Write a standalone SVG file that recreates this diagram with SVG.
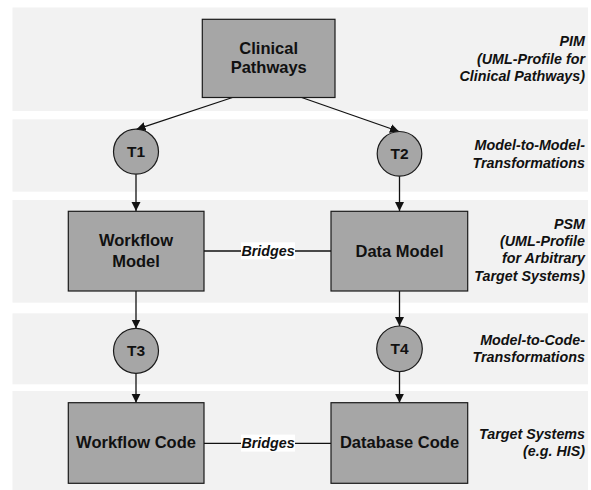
<svg xmlns="http://www.w3.org/2000/svg" width="591" height="490" viewBox="0 0 591 490">
<style>
.band{fill:#f2f2f2}
.box{fill:#a6a6a6;stroke:#1a1a1a;stroke-width:1.2}
.circ{fill:#a6a6a6;stroke:#1a1a1a;stroke-width:1.2}
.nt{font-family:"Liberation Sans",Arial,sans-serif;font-weight:bold;font-size:16.5px;fill:#111;text-anchor:middle}
.tt{font-family:"Liberation Sans",Arial,sans-serif;font-weight:bold;font-size:15.5px;fill:#111;text-anchor:middle}
.lbl{font-family:"Liberation Sans",Arial,sans-serif;font-weight:bold;font-style:italic;font-size:14.3px;fill:#111;text-anchor:end}
.br{font-family:"Liberation Sans",Arial,sans-serif;font-weight:bold;font-style:italic;font-size:14.3px;fill:#111;text-anchor:middle}
.ln{stroke:#111;stroke-width:1.3;fill:none}
</style>
<defs>
<marker id="ah" markerWidth="10" markerHeight="10" refX="9" refY="4.5" orient="auto" markerUnits="userSpaceOnUse">
<path d="M0,0 L9,4.5 L0,9 Z" fill="#111"/>
</marker>
</defs>
<g id="bands">
<rect class="band" x="12.5" y="7.5" width="575.5" height="103.5"/>
<rect class="band" x="12.5" y="119.3" width="575.5" height="72.4"/>
<rect class="band" x="12.5" y="200" width="575.5" height="102.7"/>
<rect class="band" x="12.5" y="313.3" width="575.5" height="71"/>
<rect class="band" x="12.5" y="391" width="575.5" height="99"/>
</g>
<g id="layer-labels">
<text class="lbl" x="585" y="45.7">PIM</text>
<text class="lbl" x="585" y="63.5">(UML-Profile for</text>
<text class="lbl" x="585" y="81.3">Clinical Pathways)</text>
<text class="lbl" x="585" y="150">Model-to-Model-</text>
<text class="lbl" x="585" y="168.3">Transformations</text>
<text class="lbl" x="585" y="228.7">PSM</text>
<text class="lbl" x="585" y="246">(UML-Profile</text>
<text class="lbl" x="585" y="263.3">for Arbitrary</text>
<text class="lbl" x="585" y="280.7">Target Systems)</text>
<text class="lbl" x="585" y="345">Model-to-Code-</text>
<text class="lbl" x="585" y="361.7">Transformations</text>
<text class="lbl" x="585" y="439.3">Target Systems</text>
<text class="lbl" x="585" y="456">(e.g. HIS)</text>
</g>
<g id="connectors">
<line class="ln" x1="232.5" y1="97.5" x2="136.5" y2="129.3" marker-end="url(#ah)"/>
<line class="ln" x1="301.7" y1="97.5" x2="399" y2="131.5" marker-end="url(#ah)"/>
<line class="ln" x1="136" y1="174.2" x2="136" y2="211" marker-end="url(#ah)"/>
<line class="ln" x1="399.5" y1="176.2" x2="399.5" y2="211" marker-end="url(#ah)"/>
<line class="ln" x1="136" y1="291" x2="136" y2="328.5" marker-end="url(#ah)"/>
<line class="ln" x1="399.5" y1="291" x2="399.5" y2="326" marker-end="url(#ah)"/>
<line class="ln" x1="136" y1="373.3" x2="136" y2="402.7" marker-end="url(#ah)"/>
<line class="ln" x1="399.5" y1="371.6" x2="399.5" y2="402.7" marker-end="url(#ah)"/>
<g id="bridge1">
<line class="ln" x1="204" y1="251" x2="331" y2="251"/>
<rect x="241" y="242.3" width="54" height="17" fill="#ffffff"/>
<text class="br" x="268" y="256">Bridges</text>
</g>
<g id="bridge2">
<line class="ln" x1="204" y1="443.3" x2="331" y2="443.3"/>
<rect x="241" y="434.6" width="54" height="17" fill="#ffffff"/>
<text class="br" x="268" y="448.3">Bridges</text>
</g>
</g>
<g id="clinical-pathways">
<rect class="box" x="202.3" y="19.3" width="132.7" height="78.2"/>
<text class="nt" x="268.7" y="54">Clinical</text>
<text class="nt" x="268.7" y="72.8">Pathways</text>
</g>
<g id="t1">
<circle class="circ" cx="136" cy="151.7" r="22.5"/>
<text class="tt" x="136" y="157">T1</text>
</g>
<g id="t2">
<circle class="circ" cx="399.5" cy="153.8" r="22.3"/>
<text class="tt" x="399.5" y="159.2">T2</text>
</g>
<g id="workflow-model">
<rect class="box" x="68.3" y="211.3" width="135.7" height="79.7"/>
<text class="nt" x="136" y="246">Workflow</text>
<text class="nt" x="136" y="266.7">Model</text>
</g>
<g id="data-model">
<rect class="box" x="331" y="211.3" width="136.7" height="79.7"/>
<text class="nt" x="399.5" y="256.7">Data Model</text>
</g>
<g id="t3">
<circle class="circ" cx="136" cy="350.8" r="22.5"/>
<text class="tt" x="136" y="356.2">T3</text>
</g>
<g id="t4">
<circle class="circ" cx="399.5" cy="348.8" r="22.8"/>
<text class="tt" x="399.5" y="354.2">T4</text>
</g>
<g id="workflow-code">
<rect class="box" x="68.3" y="402.7" width="135.7" height="80.6"/>
<text class="nt" x="136" y="448.3">Workflow Code</text>
</g>
<g id="database-code">
<rect class="box" x="331" y="402.7" width="136.7" height="80.6"/>
<text class="nt" x="399.5" y="448.3">Database Code</text>
</g>
</svg>
